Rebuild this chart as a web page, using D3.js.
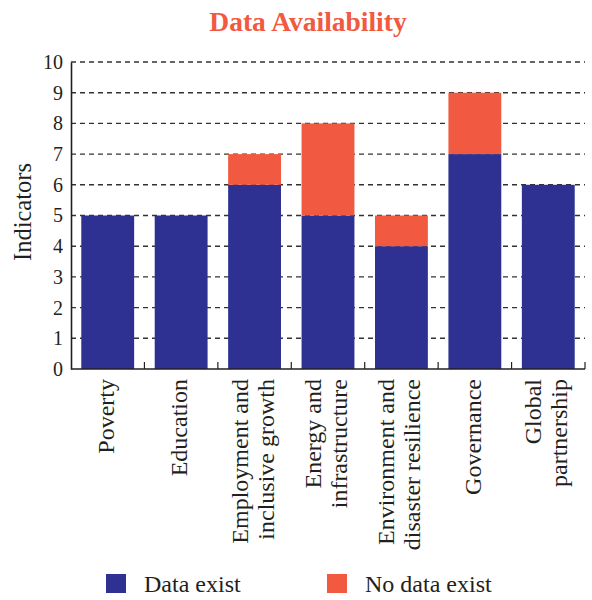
<!DOCTYPE html>
<html>
<head>
<meta charset="utf-8">
<script src="https://cdn.jsdelivr.net/npm/d3@7"></script>
<style>
  body { margin: 0; background: #fff; }
  text { font-family: "Liberation Serif", "DejaVu Serif", serif; fill: #231f20; }
</style>
</head>
<body>
<div class="chart"></div>
<script>
const categories = ["Poverty", "Education", "Employment and inclusive growth", "Energy and infrastructure",
                    "Environment and disaster resilience", "Governance", "Global partnership"]
const category_lines = [["Poverty"], ["Education"], ["Employment and", "inclusive growth"],
                        ["Energy and", "infrastructure"], ["Environment and", "disaster resilience"],
                        ["Governance"], ["Global", "partnership"]]
const data_exist = [5, 5, 6, 5, 4, 7, 6]
const no_data_exist = [0, 0, 1, 3, 1, 2, 0]
const series_names = ["Data exist", "No data exist"]
const y_ticks = [0, 1, 2, 3, 4, 5, 6, 7, 8, 9, 10]

const chart_param = {
    width: 592,
    height: 600,
    margin: { top: 62, right: 7, bottom: 231, left: 71 }
}
const colors = ["#2e3192", "#f15a40"]

const svg = d3.select(".chart").append("svg")
    .attr("width", chart_param.width)
    .attr("height", chart_param.height)

const x = d3.scaleBand()
    .domain(categories)
    .range([chart_param.margin.left, chart_param.width - chart_param.margin.right])
    .paddingInner(0.28)
    .paddingOuter(0.14)
const y = d3.scaleLinear()
    .domain([0, 10])
    .range([chart_param.height - chart_param.margin.bottom, chart_param.margin.top])

const rows = categories.map((c, i) => ({ cat: c, "Data exist": data_exist[i], "No data exist": no_data_exist[i] }))
const stacked = d3.stack().keys(series_names)(rows)

// title
svg.append("text")
    .attr("x", 308).attr("y", 31)
    .attr("text-anchor", "middle")
    .style("font-size", "27.5px")
    .style("font-weight", "bold")
    .style("fill", "#f15a40")
    .text("Data Availability")

// dashed grid
svg.append("g")
    .selectAll("line")
    .data(y_ticks.filter(d => d > 0))
    .enter().append("line")
    .attr("x1", x.range()[0]).attr("x2", x.range()[1])
    .attr("y1", d => y(d)).attr("y2", d => y(d))
    .style("stroke", "#333")
    .style("stroke-width", 1.4)
    .style("stroke-dasharray", "5,4")

// bars
svg.append("g")
    .selectAll("g")
    .data(stacked).enter()
    .append("g")
    .style("fill", (d, i) => colors[i])
    .selectAll("rect")
    .data(d => d.filter(s => s[1] > s[0]))
    .enter().append("rect")
    .attr("x", d => x(d.data.cat))
    .attr("width", x.bandwidth())
    .attr("y", d => y(d[1]))
    .attr("height", d => y(d[0]) - y(d[1]))

// y axis
const y_axis = svg.append("g")
    .attr("transform", `translate(${chart_param.margin.left},0)`)
    .call(d3.axisLeft(y).tickValues(y_ticks).tickSize(0).tickPadding(8))
y_axis.select(".domain").style("stroke", "#231f20").style("stroke-width", 1.6)
y_axis.selectAll("text").style("font-size", "20px").style("font-family", null)

// x axis with band-boundary ticks pointing up
const x0 = y(0)
const x_axis = svg.append("g")
svg.append("line")
    .attr("x1", x.range()[0]).attr("x2", x.range()[1])
    .attr("y1", x0).attr("y2", x0)
    .style("stroke", "#231f20").style("stroke-width", 1.6)
x_axis.selectAll("line")
    .data(categories).enter()
    .append("line")
    .attr("x1", d => x(d) - x.step() * x.paddingInner() / 2 + x.step())
    .attr("x2", d => x(d) - x.step() * x.paddingInner() / 2 + x.step())
    .attr("y1", x0).attr("y2", x0 - 7)
    .style("stroke", "#231f20").style("stroke-width", 1.2)

// category labels, rotated
svg.append("g")
    .selectAll("text")
    .data(categories).enter()
    .append("text")
    .attr("transform", d => `translate(${x(d) + x.bandwidth() / 2},379) rotate(-90)`)
    .attr("text-anchor", "end")
    .style("font-size", "24px")
    .each(function (d, i) {
        const lines = category_lines[i]
        const sel = d3.select(this)
        lines.forEach((t, j) => {
            const off = (j - (lines.length - 1) / 2) * 26 + 6
            sel.append("tspan").attr("x", 0).attr("y", off).text(t)
        })
    })

// y axis title
svg.append("text")
    .attr("transform", "translate(31,212) rotate(-90)")
    .attr("text-anchor", "middle")
    .style("font-size", "24.5px")
    .text("Indicators")

// legend
const legend_x = [106, 327]
const legend = svg.append("g")
    .selectAll("g")
    .data(series_names).enter()
    .append("g")
    .attr("transform", (d, i) => `translate(${legend_x[i]},574)`)
legend.append("rect")
    .attr("width", 20).attr("height", 19)
    .style("fill", (d, i) => colors[i])
legend.append("text")
    .attr("x", 38).attr("y", 18)
    .style("font-size", "24px")
    .text(d => d)
</script>
</body>
</html>
